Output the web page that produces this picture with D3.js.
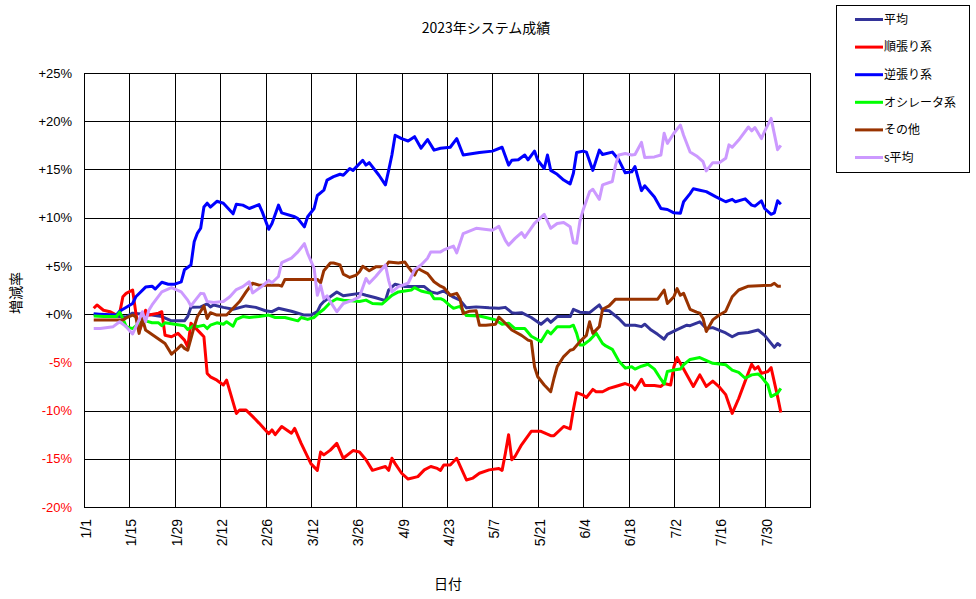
<!DOCTYPE html>
<html>
<head>
<meta charset="utf-8">
<script src="https://d3js.org/d3.v7.min.js"></script>
<style>
  body { margin: 0; background: #fff; }
  svg { display: block; font-family: "Noto Sans CJK JP", sans-serif; }
  .axis path, .axis line { stroke: #000; shape-rendering: crispEdges; }
  .axis text { font-size: 13px; fill: #000; }
  .legend text { font-size: 12px; }
</style>
</head>
<body>
<svg id="chart" width="976" height="599"></svg>
<script>
// chart text
const chartTitle = "2023年システム成績";
const yTitle = "増減率";
const xTitle = "日付";

// legend / series order
const seriesNames = ["平均", "順張り系", "逆張り系", "オシレータ系", "その他", "s平均"];
const seriesColors = ["#333399", "#FF0000", "#0000FF", "#00FF00", "#993300", "#CC99FF"];

// axes
const yTicks = [25, 20, 15, 10, 5, 0, -5, -10, -15, -20];
const xTickLabels = ["1/1", "1/15", "1/29", "2/12", "2/26", "3/12", "3/26", "4/9", "4/23",
                     "5/7", "5/21", "6/4", "6/18", "7/2", "7/16", "7/30"];
const xEnd = "8/13";

// series values (date, % change)
const heikin = [
  ["1/4",0.0],["1/12",-0.25],["1/14",-0.3],["1/16",0.1],["1/22",-0.1],["1/25",-0.25],["1/28",-0.7],
  ["2/1",-0.7],["2/2",-0.25],["2/3",0.7],["2/6",0.75],["2/8",1.05],["2/9",0.75],["2/10",0.95],
  ["2/13",0.7],["2/16",0.5],["2/20",0.85],["2/23",0.7],["2/26",0.35],["2/28",0.25],["3/2",0.6],
  ["3/6",0.3],["3/10",-0.1],["3/12",-0.1],["3/14",0.25],["3/15",0.95],["3/16",1.3],["3/18",1.8],
  ["3/20",2.3],["3/22",1.9],["3/27",2.15],["3/29",1.95],["4/1",1.7],["4/4",1.4],["4/5",2.5],
  ["4/7",3.1],["4/10",2.85],["4/16",2.85],["4/18",2.3],["4/20",2.15],["4/22",2.4],["4/24",1.95],
  ["4/25",1.75],["4/27",1.45],["4/29",0.65],["5/2",0.75],["5/6",0.65],["5/9",0.6],["5/11",0.7],
  ["5/13",0.15],["5/14",0.1],["5/16",0.15],["5/19",-0.35],["5/22",-1.05],["5/24",-0.5],["5/25",-0.85],
  ["5/27",-0.25],["5/31",-0.25],["6/1",0.5],["6/3",0.2],["6/6",0.15],["6/9",0.95],["6/10",0.4],
  ["6/12",0.35],["6/15",-0.45],["6/17",-1.15],["6/20",-1.15],["6/22",-1.3],["6/23",-1.05],
  ["6/25",-1.65],["6/27",-2.1],["6/29",-2.6],["6/30",-2.1],["7/3",-1.6],["7/5",-1.3],["7/6",-1.15],
  ["7/7",-1.2],["7/10",-0.8],["7/12",-1.5],["7/14",-1.4],["7/18",-1.95],["7/20",-2.35],["7/22",-2.0],
  ["7/25",-1.9],["7/28",-1.65],["7/30",-2.2],["8/2",-3.45],["8/3",-3.05],["8/4",-3.3]
];

const junbari = [
  ["1/4",0.6],["1/5",0.95],["1/7",0.4],["1/9",0.25],["1/11",-0.1],["1/12",0.1],["1/13",1.8],
  ["1/14",2.15],["1/16",2.5],["1/17",0.1],["1/18",-1.8],["1/19",-0.95],["1/20",0.4],["1/21",-0.1],
  ["1/24",0.1],["1/25",0.25],["1/26",-2.2],["1/28",-2.35],["1/30",-2.0],["2/1",-2.7],["2/2",-3.4],
  ["2/3",-0.95],["2/4",-1.3],["2/6",-2.0],["2/7",-2.35],["2/8",-6.15],["2/9",-6.5],["2/11",-6.85],
  ["2/13",-7.35],["2/14",-6.85],["2/17",-10.3],["2/18",-9.95],["2/20",-9.95],["2/22",-10.6],
  ["2/24",-11.3],["2/27",-12.4],["2/28",-12.0],["3/1",-12.5],["3/3",-11.65],["3/6",-12.35],
  ["3/7",-11.85],["3/9",-13.4],["3/11",-14.8],["3/12",-15.5],["3/14",-16.2],["3/15",-14.3],
  ["3/16",-14.6],["3/18",-14.1],["3/20",-13.4],["3/22",-14.95],["3/25",-14.15],["3/27",-14.3],
  ["3/29",-15.1],["3/31",-16.2],["4/2",-16.0],["4/4",-15.8],["4/5",-16.2],["4/6",-14.95],
  ["4/7",-15.5],["4/9",-16.5],["4/11",-17.1],["4/14",-16.85],["4/16",-16.15],["4/18",-15.8],
  ["4/20",-16.0],["4/21",-16.2],["4/22",-15.65],["4/24",-15.65],["4/26",-14.95],["4/29",-17.2],
  ["5/1",-17.0],["5/3",-16.5],["5/6",-16.15],["5/9",-16.0],["5/10",-16.2],["5/11",-14.45],
  ["5/12",-12.5],["5/13",-15.1],["5/14",-14.75],["5/16",-13.55],["5/19",-12.15],["5/22",-12.15],
  ["5/25",-12.6],["5/26",-12.6],["5/29",-11.65],["5/31",-11.9],["6/1",-9.9],["6/2",-8.15],
  ["6/4",-8.4],["6/5",-8.65],["6/7",-7.8],["6/8",-8.05],["6/10",-8.05],["6/12",-7.7],["6/14",-7.5],
  ["6/17",-7.2],["6/19",-7.45],["6/20",-7.85],["6/22",-6.75],["6/23",-7.4],["6/26",-7.4],
  ["6/28",-7.5],["6/29",-7.2],["7/1",-7.35],["7/2",-5.45],["7/3",-4.5],["7/5",-5.7],["7/8",-7.5],
  ["7/10",-6.3],["7/12",-7.5],["7/14",-6.95],["7/16",-7.55],["7/18",-8.35],["7/20",-10.3],
  ["7/22",-8.75],["7/24",-6.95],["7/26",-5.2],["7/27",-5.7],["7/28",-5.45],["7/29",-6.15],
  ["7/31",-5.95],["8/1",-5.55],["8/3",-8.55],["8/4",-10.2]
];

const gyakubari = [
  ["1/4",0.0],["1/11",-0.1],["1/12",0.3],["1/16",1.1],["1/17",1.8],["1/20",2.8],["1/22",2.9],
  ["1/23",2.6],["1/25",3.3],["1/27",3.1],["1/29",3.1],["1/31",3.35],["2/1",4.6],["2/3",5.1],
  ["2/4",7.5],["2/5",8.4],["2/6",8.9],["2/7",11.1],["2/8",11.5],["2/9",11.1],["2/11",11.7],
  ["2/13",11.5],["2/16",10.4],["2/17",11.4],["2/19",11.3],["2/21",10.95],["2/24",11.35],
  ["2/25",10.6],["2/27",8.8],["2/28",9.4],["3/2",11.3],["3/3",10.5],["3/7",10.1],["3/8",9.9],
  ["3/10",9.05],["3/11",10.1],["3/13",10.95],["3/14",12.3],["3/16",12.85],["3/17",13.9],
  ["3/19",14.25],["3/21",14.5],["3/22",14.4],["3/24",15.1],["3/25",14.9],["3/28",15.95],
  ["3/29",15.45],["3/30",15.7],["4/2",14.4],["4/4",13.4],["4/5",14.9],["4/6",16.5],["4/7",18.55],
  ["4/9",18.2],["4/11",17.95],["4/13",18.4],["4/15",17.2],["4/17",18.1],["4/19",17.0],["4/21",17.2],
  ["4/24",17.3],["4/26",18.2],["4/28",16.5],["5/3",16.75],["5/7",16.9],["5/10",17.3],["5/12",15.45],
  ["5/13",15.95],["5/15",16.0],["5/17",16.5],["5/18",16.0],["5/20",16.9],["5/21",15.95],
  ["5/23",15.1],["5/24",16.5],["5/25",14.9],["5/27",14.5],["5/29",13.9],["5/31",13.5],["6/1",14.6],
  ["6/2",16.75],["6/4",16.9],["6/5",16.8],["6/7",14.9],["6/9",17.0],["6/10",16.55],["6/13",16.8],
  ["6/15",16.0],["6/17",14.65],["6/19",14.75],["6/20",15.3],["6/22",12.8],["6/23",13.3],
  ["6/26",12.15],["6/28",10.95],["6/30",10.85],["7/2",10.5],["7/4",10.45],["7/5",11.65],
  ["7/7",12.5],["7/8",13.0],["7/10",12.85],["7/12",12.7],["7/15",12.15],["7/18",11.65],
  ["7/20",11.9],["7/21",11.65],["7/24",11.95],["7/26",11.3],["7/27",11.2],["7/29",11.75],
  ["7/30",10.95],["8/1",10.35],["8/2",10.5],["8/3",11.75],["8/4",11.4]
];

const oscillator = [
  ["1/4",-0.2],["1/7",-0.25],["1/11",-0.25],["1/12",0.2],["1/13",-0.45],["1/14",-1.3],["1/16",-1.5],
  ["1/18",-0.95],["1/20",-0.7],["1/22",-0.9],["1/24",-0.9],["1/25",-1.2],["1/26",-0.9],["1/29",-1.05],
  ["2/1",-1.2],["2/2",-1.6],["2/4",-1.15],["2/5",-1.3],["2/7",-1.15],["2/8",-1.5],["2/9",-1.15],
  ["2/11",-0.9],["2/13",-1.05],["2/14",-0.8],["2/16",-1.25],["2/17",-0.55],["2/19",-0.25],
  ["2/21",-0.35],["2/24",-0.25],["2/27",-0.1],["3/1",-0.35],["3/4",-0.35],["3/8",-0.7],["3/9",-0.35],
  ["3/11",-0.55],["3/13",-0.35],["3/15",0.25],["3/16",0.5],["3/18",1.2],["3/20",1.6],["3/22",1.45],
  ["3/27",1.3],["3/29",1.45],["3/31",1.1],["4/3",1.05],["4/6",1.95],["4/8",2.3],["4/12",2.5],
  ["4/13",2.75],["4/15",2.4],["4/18",2.15],["4/19",1.6],["4/21",1.6],["4/22",1.45],["4/24",0.85],
  ["4/25",0.6],["4/27",0.8],["4/29",-0.15],["5/3",-0.2],["5/5",-0.35],["5/8",-0.6],["5/10",-1.05],
  ["5/12",-0.95],["5/14",-1.5],["5/17",-1.5],["5/19",-2.3],["5/22",-2.85],["5/24",-1.75],
  ["5/25",-2.05],["5/27",-1.3],["5/31",-1.3],["6/1",-1.15],["6/2",-2.0],["6/3",-3.2],["6/4",-3.2],
  ["6/6",-2.7],["6/7",-2.35],["6/8",-1.95],["6/10",-3.05],["6/11",-3.3],["6/13",-3.65],["6/15",-4.85],
  ["6/17",-5.6],["6/19",-5.45],["6/20",-5.7],["6/22",-5.4],["6/24",-5.2],["6/26",-5.7],["6/28",-6.75],
  ["6/29",-7.25],["6/30",-5.95],["7/2",-5.8],["7/4",-5.7],["7/5",-5.25],["7/7",-4.7],["7/10",-4.5],
  ["7/14",-5.1],["7/18",-5.25],["7/20",-5.8],["7/22",-6.05],["7/24",-6.65],["7/26",-6.3],
  ["7/28",-6.2],["7/29",-6.5],["7/31",-7.35],["8/1",-8.55],["8/3",-8.2],["8/4",-7.7]
];

const sonota = [
  ["1/4",-0.6],["1/13",-0.6],["1/14",-0.4],["1/16",-0.1],["1/17",-0.3],["1/18",-2.0],["1/19",-0.45],
  ["1/20",-1.65],["1/23",-2.35],["1/26",-3.05],["1/28",-4.15],["1/30",-3.55],["1/31",-3.2],
  ["2/1",-3.55],["2/2",-3.75],["2/4",-1.3],["2/5",-0.25],["2/7",0.85],["2/8",-0.45],["2/9",0.15],
  ["2/11",-0.1],["2/14",-0.1],["2/16",0.6],["2/18",1.3],["2/20",2.3],["2/22",3.2],["2/24",3.0],
  ["3/2",3.0],["3/3",2.9],["3/4",3.6],["3/14",3.6],["3/15",3.25],["3/16",4.5],["3/18",5.3],
  ["3/19",5.3],["3/21",5.1],["3/22",4.15],["3/24",3.8],["3/26",4.05],["3/27",4.4],["3/28",4.95],
  ["3/30",4.5],["4/1",4.9],["4/4",4.9],["4/5",5.4],["4/8",5.3],["4/10",5.4],["4/11",4.9],
  ["4/13",4.05],["4/14",4.75],["4/15",4.55],["4/17",4.2],["4/19",3.35],["4/21",2.9],["4/22",2.75],
  ["4/24",1.95],["4/26",2.15],["4/27",1.6],["4/28",0.05],["4/30",0.3],["5/2",0.35],["5/3",-1.15],
  ["5/5",-1.15],["5/8",-1.05],["5/9",-0.3],["5/11",-0.95],["5/13",-1.65],["5/16",-2.2],["5/18",-2.7],
  ["5/19",-2.8],["5/20",-5.45],["5/21",-6.5],["5/23",-7.35],["5/25",-8.05],["5/26",-6.65],
  ["5/27",-5.45],["5/29",-4.4],["5/31",-3.75],["6/1",-3.65],["6/3",-2.85],["6/5",-2.2],["6/6",-0.8],
  ["6/7",-2.0],["6/9",-1.3],["6/10",0.5],["6/12",0.85],["6/14",1.55],["6/27",1.55],["6/29",2.5],
  ["6/30",1.1],["7/2",1.8],["7/3",2.65],["7/4",1.95],["7/5",2.15],["7/7",0.5],["7/9",0.2],
  ["7/10",0.1],["7/11",-0.45],["7/12",-1.8],["7/14",-0.6],["7/16",-0.1],["7/18",0.3],["7/20",1.8],
  ["7/22",2.5],["7/25",2.9],["8/1",3.0],["8/2",3.2],["8/3",2.9],["8/4",2.9]
];

const sHeikin = [
  ["1/4",-1.5],["1/6",-1.5],["1/10",-1.3],["1/12",-0.8],["1/14",-1.3],["1/16",-2.05],["1/18",-0.6],
  ["1/19",0.25],["1/20",-0.8],["1/21",0.4],["1/22",0.95],["1/25",2.3],["1/28",2.75],["1/31",2.3],
  ["2/2",1.45],["2/3",0.85],["2/4",1.3],["2/6",2.15],["2/7",2.1],["2/8",1.3],["2/10",1.2],
  ["2/13",1.3],["2/15",1.8],["2/17",2.55],["2/19",2.85],["2/21",3.35],["2/22",2.2],["2/25",2.9],
  ["2/27",3.5],["2/28",3.25],["3/2",3.9],["3/3",5.35],["3/6",5.8],["3/8",6.45],["3/10",7.3],
  ["3/11",6.3],["3/13",4.75],["3/14",1.95],["3/15",3.0],["3/16",1.6],["3/17",1.9],["3/18",1.3],
  ["3/20",0.25],["3/22",1.1],["3/25",1.45],["3/27",1.8],["3/29",3.7],["3/30",3.2],["4/1",3.9],
  ["4/4",5.1],["4/5",3.5],["4/6",2.3],["4/8",2.85],["4/11",3.2],["4/13",4.6],["4/15",5.1],
  ["4/17",5.8],["4/18",6.45],["4/21",6.45],["4/22",6.65],["4/25",7.05],["4/26",6.35],["4/28",8.35],
  ["5/2",8.9],["5/7",8.7],["5/9",9.1],["5/11",7.65],["5/12",7.15],["5/14",7.85],["5/16",8.45],
  ["5/17",7.95],["5/20",9.4],["5/23",10.35],["5/25",8.9],["5/27",9.4],["5/29",9.5],["5/31",9.05],
  ["6/1",7.4],["6/2",7.35],["6/3",9.6],["6/4",10.8],["6/6",12.7],["6/7",12.95],["6/9",11.9],
  ["6/10",13.4],["6/13",13.75],["6/14",15.45],["6/15",16.5],["6/17",16.65],["6/19",16.5],
  ["6/20",16.55],["6/22",17.8],["6/23",16.25],["6/26",16.3],["6/28",16.5],["6/29",18.75],
  ["6/30",17.7],["7/2",18.75],["7/4",19.6],["7/5",18.55],["7/7",16.8],["7/9",16.4],["7/11",15.8],
  ["7/12",14.85],["7/14",15.7],["7/16",15.7],["7/18",16.15],["7/19",17.55],["7/20",17.3],
  ["7/22",18.05],["7/25",19.4],["7/26",19.0],["7/27",19.35],["7/29",18.2],["7/30",18.95],
  ["8/1",20.3],["8/3",17.05],["8/4",17.5]
];

const seriesData = [heikin, junbari, gyakubari, oscillator, sonota, sHeikin];

// layout
const svg = d3.select("#chart");
const plot = { left: 84, top: 73, right: 810, bottom: 507 };
const plotW = plot.right - plot.left;
const plotH = plot.bottom - plot.top;

const parseMD = s => {
  const [m, d] = s.split("/").map(Number);
  return new Date(Date.UTC(2023, m - 1, d));
};
const fmtMD = d3.utcFormat("%-m/%-d");

const x = d3.scaleUtc()
  .domain([parseMD(xTickLabels[0]), parseMD(xEnd)])
  .range([plot.left, plot.right]);

const y = d3.scaleLinear()
  .domain([d3.min(yTicks), d3.max(yTicks)])
  .range([plot.bottom, plot.top]);

// y axis with horizontal gridlines
const yAxis = svg.append("g")
  .attr("class", "axis y")
  .attr("transform", `translate(${plot.left},0)`)
  .call(d3.axisLeft(y)
    .tickValues(yTicks)
    .tickSize(-plotW)
    .tickSizeOuter(0)
    .tickPadding(12)
    .tickFormat(d => (d >= 0 ? "+" : "") + d + "%"));
yAxis.selectAll("text").style("fill", d => d < 0 ? "#FF0000" : "#000");

// x axis with vertical gridlines, labels rotated
const xAxis = svg.append("g")
  .attr("class", "axis x")
  .attr("transform", `translate(0,${plot.bottom})`)
  .call(d3.axisBottom(x)
    .tickValues(xTickLabels.map(parseMD))
    .tickSize(-plotH)
    .tickSizeOuter(0)
    .tickFormat(fmtMD));
xAxis.selectAll("text")
  .attr("transform", "rotate(-90)")
  .attr("x", -12)
  .attr("y", 1.5)
  .attr("dy", "0.35em")
  .style("font-size", "14px")
  .style("text-anchor", "end");

// plot frame
svg.append("rect")
  .attr("x", plot.left + 0.5)
  .attr("y", plot.top + 0.5)
  .attr("width", plotW)
  .attr("height", plotH - 0.5)
  .attr("fill", "none")
  .attr("stroke", "#000")
  .attr("shape-rendering", "crispEdges");

// lines
const line = d3.line()
  .x(d => x(parseMD(d[0])))
  .y(d => y(d[1]));

svg.append("g").selectAll("path")
  .data(seriesData)
  .join("path")
  .attr("fill", "none")
  .attr("stroke", (d, i) => seriesColors[i])
  .attr("stroke-width", 3)
  .attr("stroke-linejoin", "round")
  .attr("d", line);

// titles
svg.append("text")
  .attr("x", 486)
  .attr("y", 33)
  .attr("text-anchor", "middle")
  .style("font-size", "14px")
  .text(chartTitle);

svg.append("text")
  .attr("transform", "translate(21,293) rotate(-90)")
  .attr("text-anchor", "middle")
  .style("font-size", "14px")
  .text(yTitle);

svg.append("text")
  .attr("x", 448)
  .attr("y", 589)
  .attr("text-anchor", "middle")
  .style("font-size", "14px")
  .text(xTitle);

// legend
const legend = svg.append("g").attr("class", "legend");
legend.append("rect")
  .attr("x", 836.5).attr("y", 5.5)
  .attr("width", 133).attr("height", 167)
  .attr("fill", "#fff").attr("stroke", "#000");

const items = legend.selectAll("g.item")
  .data(seriesNames)
  .join("g")
  .attr("class", "item")
  .attr("transform", (d, i) => `translate(0,${19.5 + i * 27.6})`);
items.append("line")
  .attr("x1", 855).attr("x2", 883)
  .attr("stroke", (d, i) => seriesColors[i])
  .attr("stroke-width", 3);
items.append("text")
  .attr("x", 884)
  .attr("dy", "0.35em")
  .text(d => d);
</script>
</body>
</html>
